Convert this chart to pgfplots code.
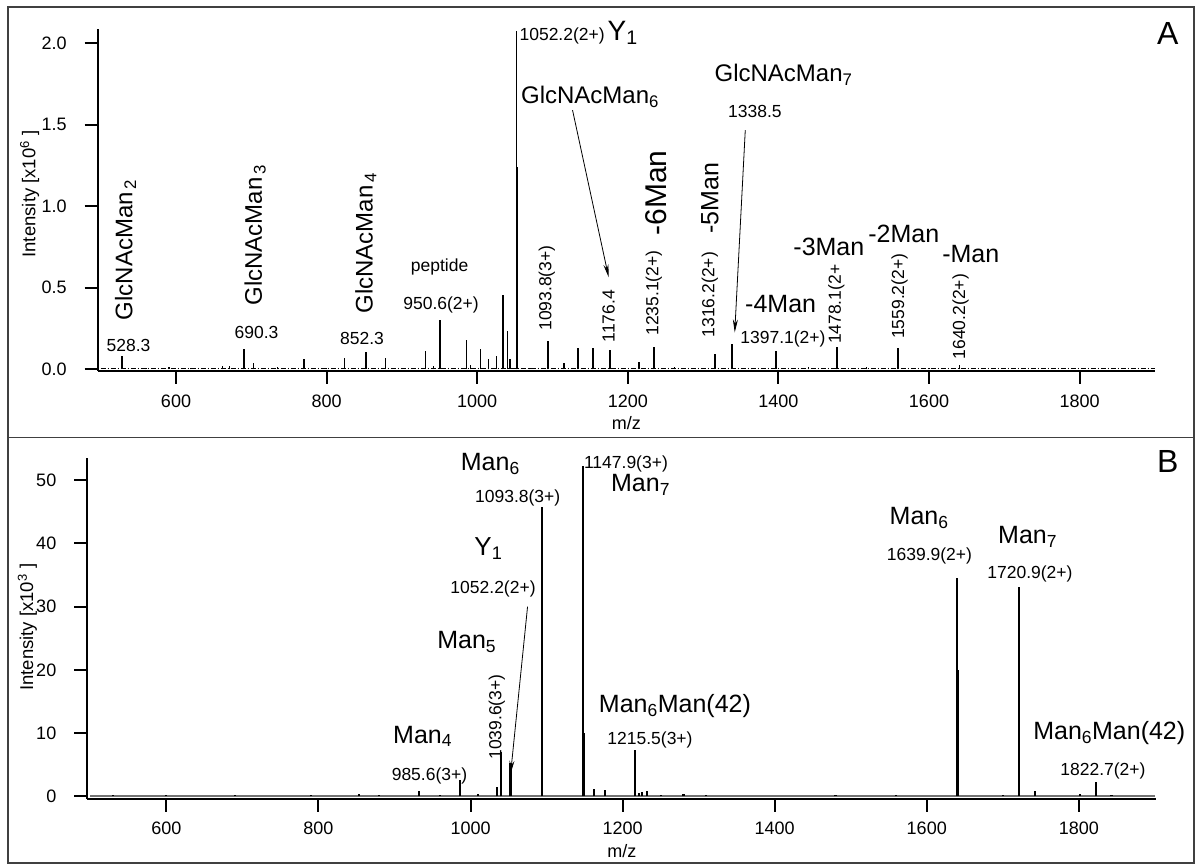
\documentclass[border=0pt]{standalone}
\usepackage{fontspec}
\setmainfont{Liberation Sans}
\usepackage{pgfplots}
\pgfplotsset{compat=1.18}
\usetikzlibrary{arrows.meta}
\newcommand{\fs}[1]{\fontsize{#1}{#1}\selectfont}
\pgfplotsset{
  spec/.style={scale only axis, anchor=south west, axis lines*=left,
    tick align=outside, major tick length=13pt,
    axis line style={line width=2pt},
    every tick/.style={line width=2pt,black},
    tick label style={font=\fs{18}},
    /pgf/number format/assume math mode=true,
    /pgf/number format/1000 sep={},
    xtick={600,800,...,1800}, clip=false,
    xlabel={\fs{18}m/z},
    every axis x label/.style={at={(axis description cs:0.5,0)}, anchor=center, yshift=-52pt, font=\fs{18}},
    xticklabel style={anchor=center, yshift=-17pt},
    yticklabel style={anchor=east, xshift=-14.5pt},
  },
}
\tikzset{
  lab/.style={font=\fs{17.5}, inner sep=0pt},
  rlab/.style={font=\fs{17.5}, inner sep=0pt, rotate=90, anchor=west},
  big/.style={font=\fs{25}, inner sep=0pt},
  rbig/.style={font=\fs{24}, inner sep=0pt, rotate=90, anchor=west},
  arr/.style={line width=0.8pt, -{Stealth[length=13pt,width=5pt]}},
}
\begin{document}
\begin{tikzpicture}
\useasboundingbox (0pt,0pt) rectangle (1195pt,864pt);
\fill[white] (0pt,0pt) rectangle (1195pt,864pt);
\draw[line width=1.5pt, black!75] (8pt,857pt) rectangle (1194pt,426.7pt);
\draw[line width=1.5pt, black!75] (8pt,426.7pt) rectangle (1194pt,0.75pt);

% ---------------- Panel A ----------------
\begin{axis}[spec, at={(97.7pt,493.1pt)}, width=1057.2pt, height=341.6pt,
  xmin=496, xmax=1900, ymin=-0.01, ymax=2.086,
  ytick={0,0.5,...,2.0},
  yticklabel style={/pgf/number format/.cd, fixed, fixed zerofill, precision=1},
  ylabel={\fs{18.5}Intensity [x10\textsuperscript{6} ]},
  every axis y label/.style={at={(axis description cs:-0.0643,0.518)}, rotate=90, anchor=center, font=\fs{18.5}},
]
\addplot[black, line width=1.1pt, dash pattern=on 5pt off 2pt on 1pt off 2pt] coordinates {(500,0.005) (1900,0.005)};
\addplot[ycomb, black, line width=1.6pt, mark=none] coordinates {
 (528.3,0.082) (591,0.015) (662,0.018) (671,0.022) (690.5,0.123) (703,0.04)
 (770,0.065) (824,0.072) (852.3,0.107) (878,0.072) (931.5,0.115) (942,0.018)
 (950.5,0.30) (985.8,0.178) (991,0.025) (1004.5,0.125) (1015,0.062) (1025.5,0.08)
 (1034,0.455) (1040,0.235) (1043.5,0.06) (1052.3,2.075) (1053.2,1.24)
 (1093.8,0.175) (1115,0.038) (1133.5,0.133) (1153.5,0.133) (1176.5,0.12)
 (1214.5,0.045) (1235,0.137) (1316,0.092) (1338.5,0.158) (1397,0.113)
 (1478,0.137) (1517,0.012) (1559.2,0.133) (1640.3,0.025)
 (560,0.01) (620,0.008) (735,0.012) (800,0.01) (1070,0.01) (1262,0.012) (1290,0.01)
 (1365,0.01) (1440,0.012) (1600,0.01)
};
\node[rbig] at (axis cs:533,0.30) {GlcNAcMan\textsubscript{\,2}};
\node[lab] at (axis cs:537,0.144) {528.3};
\node[rbig] at (axis cs:705,0.39) {GlcNAcMan\textsubscript{\,3}};
\node[lab] at (axis cs:707,0.226) {690.3};
\node[rbig] at (axis cs:852,0.34) {GlcNAcMan\textsubscript{\,4}};
\node[lab] at (axis cs:847,0.19) {852.3};
\node[lab] at (axis cs:950,0.626) {peptide};
\node[lab] at (axis cs:952,0.396) {950.6(2+)};
\node[lab, anchor=base west] at (axis cs:1056,2.02) {1052.2(2+)\,{\fs{28}Y\textsubscript{1}}};
\node[big, anchor=west, font=\fs{24}] at (axis cs:1058,1.672) {GlcNAcMan\textsubscript{6}};
\draw[arr] (axis cs:1126.6,1.59) -- (axis cs:1174.6,0.564);
\node[big, anchor=west, font=\fs{24}] at (axis cs:1315,1.805) {GlcNAcMan\textsubscript{7}};
\node[lab] at (axis cs:1368.8,1.58) {1338.5};
\draw[arr] (axis cs:1356,1.467) -- (axis cs:1342,0.226);
\node[rlab] at (axis cs:1092.6,0.236) {1093.8(3+)};
\node[rlab] at (axis cs:1174.6,0.164) {1176.4};
\node[rlab] at (axis cs:1234.6,0.205) {1235.1(2+)};
\node[rbig, font=\fs{30}] at (axis cs:1238,0.82) {-6Man};
\node[rlab] at (axis cs:1309,0.195) {1316.2(2+)};
\node[rbig, font=\fs{25}] at (axis cs:1309,0.83) {-5Man};
\node[big] at (axis cs:1403,0.40) {-4Man};
\node[lab] at (axis cs:1406,0.185) {1397.1(2+)};
\node[rlab] at (axis cs:1477,0.154) {1478.1(2+};
\node[big] at (axis cs:1467,0.753) {-3Man};
\node[big] at (axis cs:1566.5,0.83) {-2Man};
\node[rlab] at (axis cs:1561,0.185) {1559.2(2+)};
\node[big] at (axis cs:1655.5,0.708) {-Man};
\node[rlab] at (axis cs:1642,0.06) {1640.2(2+)};
\node[font=\fs{32}, inner sep=0pt] at (axis cs:1917,2.063) {A};
\end{axis}

% ---------------- Panel B ----------------
\begin{axis}[spec, at={(87.3pt,65.3pt)}, width=1069.1pt, height=340.2pt,
  xmin=496, xmax=1902, ymin=-0.35, ymax=53.4,
  ytick={0,10,...,50},
  ylabel={\fs{18.5}Intensity [x10\textsuperscript{3} ]},
  every axis y label/.style={at={(axis description cs:-0.0561,0.504)}, rotate=90, anchor=center, font=\fs{18.5}},
]
\addplot[black!55, line width=2.6pt] coordinates {(500,0.1) (1900,0.1)};
\addplot[ycomb, black, line width=2.2pt, mark=none] coordinates {
 (852.8,0.4) (932,0.8) (986,2.6) (1034.7,1.5) (1040,7.0) (1052.5,5.3)
 (1093.8,45.8) (1094.4,26.5) (1148,52.2) (1148.6,10) (1162,1.2) (1177,1.1)
 (1216,7.3) (1222,0.6) (1226,0.7) (1232,0.8) (1640,34.5) (1640.6,20)
 (1721,33.1) (1721.6,18) (1742.7,0.9) (1802,0.4) (1823,2.3) (1843,0.3)
 (530,0.25) (600,0.2) (690,0.25) (790,0.3) (880,0.3) (960,0.3) (1010,0.4)
 (1250,0.3) (1280,0.35) (1310,0.3) (1480,0.25) (1560,0.25) (1700,0.3)
};
\node[big] at (axis cs:1026,52.5) {Man\textsubscript{6}};
\node[lab] at (axis cs:1062,47.2) {1093.8(3+)};
\node[big, font=\fs{26}] at (axis cs:1023.6,39.2) {Y\textsubscript{1}};
\node[lab] at (axis cs:1029.6,32.8) {1052.2(2+)};
\draw[arr] (axis cs:1075,30.0) -- (axis cs:1052.7,3.6);
\node[big] at (axis cs:995,24.4) {Man\textsubscript{5}};
\node[rlab] at (axis cs:1034.7,5.8) {1039.6(3+)};
\node[big] at (axis cs:937,9.5) {Man\textsubscript{4}};
\node[lab] at (axis cs:946,3.2) {985.6(3+)};
\node[lab, anchor=west] at (axis cs:1149,52.6) {1147.9(3+)};
\node[big] at (axis cs:1223.6,49.2) {Man\textsubscript{7}};
\node[big] at (axis cs:1268.8,14.3) {Man\textsubscript{6}Man(42)};
\node[lab] at (axis cs:1236,8.9) {1215.5(3+)};
\node[big] at (axis cs:1590,44) {Man\textsubscript{6}};
\node[lab] at (axis cs:1603.5,38) {1639.9(2+)};
\node[big] at (axis cs:1732.7,41) {Man\textsubscript{7}};
\node[lab] at (axis cs:1735.7,35.2) {1720.9(2+)};
\node[big] at (axis cs:1840,10) {Man\textsubscript{6}Man(42)};
\node[lab] at (axis cs:1831.7,4.0) {1822.7(2+)};
\node[font=\fs{32}, inner sep=0pt] at (axis cs:1917,52.9) {B};
\end{axis}
\end{tikzpicture}
\end{document}
